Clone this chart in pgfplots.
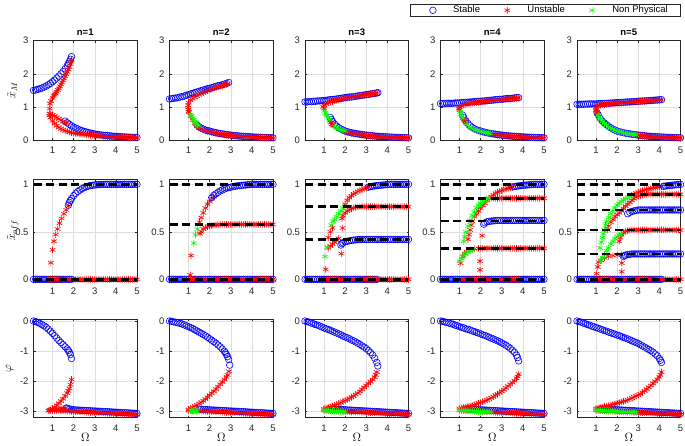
\documentclass[border=0pt]{standalone}
\usepackage{fontspec}
\setmainfont{Liberation Sans}
\usepackage{pgfplots}
\usepackage{pgfplotstable}
\pgfplotsset{compat=1.18}
\definecolor{pblue}{RGB}{0,0,255}
\definecolor{pred}{RGB}{255,0,0}
\definecolor{pgreen}{RGB}{0,255,0}
\newcommand\fsz{\fontsize{9.5}{11}\selectfont}
\pgfplotsset{
  S/.style={only marks, mark=o, color=pblue, mark size=3.3pt, mark options={line width=0.6pt}},
  U/.style={only marks, mark=asterisk, color=pred, mark size=3.3pt, mark options={line width=0.6pt}},
  N/.style={only marks, mark=asterisk, color=pgreen, mark size=3.3pt, mark options={line width=0.6pt}},
  legS/.style={S, legend image code/.code={\path (-10pt,0pt) (10pt,0pt); \draw[##1] plot coordinates {(0pt,0pt)};}},
  legU/.style={U, legend image code/.code={\path (-10pt,0pt) (10pt,0pt); \draw[##1] plot coordinates {(0pt,0pt)};}},
  legN/.style={N, legend image code/.code={\path (-10pt,0pt) (10pt,0pt); \draw[##1] plot coordinates {(0pt,0pt)};}},
  D/.style={black, line width=2.6pt, dash pattern=on 8pt off 4.5pt, no marks},
  base/.style={scale only axis, width=103.5pt, xmin=0.1, xmax=5, xtick={1,2,3,4,5},
    grid=major, major grid style={draw=black!13, line width=0.5pt},
    axis line style={draw=black!85, line width=0.5pt},
    tick align=inside, major tick length=2pt, tick style={draw=black!85, line width=0.5pt},
    ticklabel style={font=\fsz, text=black!85},
    xticklabel style={yshift=-3.5pt}, yticklabel style={xshift=-1.5pt},
    /pgf/number format/assume math mode=true, clip=false, anchor=south west,
    title style={font=\fsz\bfseries, yshift=-4pt},
    ylabel style={font=\fontsize{12}{14}\selectfont, anchor=center},
    xlabel style={font=\fontsize{11.5}{13}\selectfont, at={(axis description cs:0.5,-0.2)}, anchor=center}},
  r1/.style={base, height=99.3pt, ymin=0, ymax=3, ytick={0,1,2,3}, ylabel style={at={(axis description cs:-0.205,0.5)}}},
  r2/.style={base, height=101.65pt, ymin=-0.02, ymax=1.05, ytick={0,0.5,1}, ylabel style={at={(axis description cs:-0.2,0.5)}}},
  r2o/.style={r2, hide axis},
  r3/.style={base, height=98.6pt, ymin=-3.22, ymax=0.067, ytick={-3,-2,-1,0}, xlabel={$\Omega$}, ylabel style={at={(axis description cs:-0.23,0.5)}}},
}
% row 1 lower tails
\pgfplotstableread{
x b r
2.0 0.27 0.25
2.1 0.25 0.232
2.2 0.235 0.217
2.3 0.22 0.203
2.4 0.205 0.19
2.5 0.195 0.18
2.6 0.185 0.17
2.7 0.175 0.16
2.8 0.165 0.151
2.9 0.155 0.143
3.0 0.148 0.136
3.1 0.14 0.129
3.2 0.133 0.122
3.3 0.127 0.116
3.4 0.121 0.111
3.5 0.116 0.106
3.6 0.111 0.101
3.7 0.106 0.097
3.8 0.102 0.093
3.9 0.098 0.089
4.0 0.094 0.085
4.1 0.09 0.082
4.2 0.087 0.079
4.3 0.084 0.076
4.4 0.081 0.073
4.5 0.078 0.07
4.6 0.075 0.068
4.7 0.073 0.066
4.8 0.07 0.063
4.9 0.068 0.061
5.0 0.066 0.059
}\tailM
% row 3 lower tails
\pgfplotstableread{
x b r
0.9 -2.916 -2.976
1.0 -2.92 -2.98
1.1 -2.924 -2.984
1.2 -2.928 -2.987
1.3 -2.932 -2.991
1.4 -2.936 -2.994
1.5 -2.94 -2.998
1.6 -2.944 -3.001
1.7 -2.948 -3.005
1.8 -2.952 -3.008
1.9 -2.956 -3.012
2.0 -2.96 -3.015
2.1 -2.964 -3.019
2.2 -2.968 -3.022
2.3 -2.972 -3.026
2.4 -2.976 -3.029
2.5 -2.98 -3.033
2.6 -2.984 -3.036
2.7 -2.988 -3.04
2.8 -2.992 -3.043
2.9 -2.996 -3.047
3.0 -3.0 -3.05
3.1 -3.004 -3.054
3.2 -3.008 -3.057
3.3 -3.012 -3.061
3.4 -3.016 -3.064
3.5 -3.02 -3.068
3.6 -3.024 -3.071
3.7 -3.028 -3.075
3.8 -3.032 -3.078
3.9 -3.036 -3.082
4.0 -3.04 -3.085
4.1 -3.044 -3.089
4.2 -3.048 -3.092
4.3 -3.052 -3.096
4.4 -3.056 -3.099
4.5 -3.06 -3.103
4.6 -3.064 -3.106
4.7 -3.068 -3.11
4.8 -3.072 -3.113
4.9 -3.076 -3.117
5.0 -3.08 -3.12
}\tailP
% row 2 flat levels
\pgfplotstableread{
x z one a58 a77 a42 a85 a62 a33 a90 a73 a52 a27
0.1 0 1 0.578 0.765 0.42 0.853 0.62 0.326 0.895 0.73 0.52 0.267
0.2 0 1 0.578 0.765 0.42 0.853 0.62 0.326 0.895 0.73 0.52 0.267
0.3 0 1 0.578 0.765 0.42 0.853 0.62 0.326 0.895 0.73 0.52 0.267
0.4 0 1 0.578 0.765 0.42 0.853 0.62 0.326 0.895 0.73 0.52 0.267
0.5 0 1 0.578 0.765 0.42 0.853 0.62 0.326 0.895 0.73 0.52 0.267
0.6 0 1 0.578 0.765 0.42 0.853 0.62 0.326 0.895 0.73 0.52 0.267
0.7 0 1 0.578 0.765 0.42 0.853 0.62 0.326 0.895 0.73 0.52 0.267
0.8 0 1 0.578 0.765 0.42 0.853 0.62 0.326 0.895 0.73 0.52 0.267
0.9 0 1 0.578 0.765 0.42 0.853 0.62 0.326 0.895 0.73 0.52 0.267
1.0 0 1 0.578 0.765 0.42 0.853 0.62 0.326 0.895 0.73 0.52 0.267
1.1 0 1 0.578 0.765 0.42 0.853 0.62 0.326 0.895 0.73 0.52 0.267
1.2 0 1 0.578 0.765 0.42 0.853 0.62 0.326 0.895 0.73 0.52 0.267
1.3 0 1 0.578 0.765 0.42 0.853 0.62 0.326 0.895 0.73 0.52 0.267
1.4 0 1 0.578 0.765 0.42 0.853 0.62 0.326 0.895 0.73 0.52 0.267
1.5 0 1 0.578 0.765 0.42 0.853 0.62 0.326 0.895 0.73 0.52 0.267
1.6 0 1 0.578 0.765 0.42 0.853 0.62 0.326 0.895 0.73 0.52 0.267
1.7 0 1 0.578 0.765 0.42 0.853 0.62 0.326 0.895 0.73 0.52 0.267
1.8 0 1 0.578 0.765 0.42 0.853 0.62 0.326 0.895 0.73 0.52 0.267
1.9 0 1 0.578 0.765 0.42 0.853 0.62 0.326 0.895 0.73 0.52 0.267
2.0 0 1 0.578 0.765 0.42 0.853 0.62 0.326 0.895 0.73 0.52 0.267
2.1 0 1 0.578 0.765 0.42 0.853 0.62 0.326 0.895 0.73 0.52 0.267
2.2 0 1 0.578 0.765 0.42 0.853 0.62 0.326 0.895 0.73 0.52 0.267
2.3 0 1 0.578 0.765 0.42 0.853 0.62 0.326 0.895 0.73 0.52 0.267
2.4 0 1 0.578 0.765 0.42 0.853 0.62 0.326 0.895 0.73 0.52 0.267
2.5 0 1 0.578 0.765 0.42 0.853 0.62 0.326 0.895 0.73 0.52 0.267
2.6 0 1 0.578 0.765 0.42 0.853 0.62 0.326 0.895 0.73 0.52 0.267
2.7 0 1 0.578 0.765 0.42 0.853 0.62 0.326 0.895 0.73 0.52 0.267
2.8 0 1 0.578 0.765 0.42 0.853 0.62 0.326 0.895 0.73 0.52 0.267
2.9 0 1 0.578 0.765 0.42 0.853 0.62 0.326 0.895 0.73 0.52 0.267
3.0 0 1 0.578 0.765 0.42 0.853 0.62 0.326 0.895 0.73 0.52 0.267
3.1 0 1 0.578 0.765 0.42 0.853 0.62 0.326 0.895 0.73 0.52 0.267
3.2 0 1 0.578 0.765 0.42 0.853 0.62 0.326 0.895 0.73 0.52 0.267
3.3 0 1 0.578 0.765 0.42 0.853 0.62 0.326 0.895 0.73 0.52 0.267
3.4 0 1 0.578 0.765 0.42 0.853 0.62 0.326 0.895 0.73 0.52 0.267
3.5 0 1 0.578 0.765 0.42 0.853 0.62 0.326 0.895 0.73 0.52 0.267
3.6 0 1 0.578 0.765 0.42 0.853 0.62 0.326 0.895 0.73 0.52 0.267
3.7 0 1 0.578 0.765 0.42 0.853 0.62 0.326 0.895 0.73 0.52 0.267
3.8 0 1 0.578 0.765 0.42 0.853 0.62 0.326 0.895 0.73 0.52 0.267
3.9 0 1 0.578 0.765 0.42 0.853 0.62 0.326 0.895 0.73 0.52 0.267
4.0 0 1 0.578 0.765 0.42 0.853 0.62 0.326 0.895 0.73 0.52 0.267
4.1 0 1 0.578 0.765 0.42 0.853 0.62 0.326 0.895 0.73 0.52 0.267
4.2 0 1 0.578 0.765 0.42 0.853 0.62 0.326 0.895 0.73 0.52 0.267
4.3 0 1 0.578 0.765 0.42 0.853 0.62 0.326 0.895 0.73 0.52 0.267
4.4 0 1 0.578 0.765 0.42 0.853 0.62 0.326 0.895 0.73 0.52 0.267
4.5 0 1 0.578 0.765 0.42 0.853 0.62 0.326 0.895 0.73 0.52 0.267
4.6 0 1 0.578 0.765 0.42 0.853 0.62 0.326 0.895 0.73 0.52 0.267
4.7 0 1 0.578 0.765 0.42 0.853 0.62 0.326 0.895 0.73 0.52 0.267
4.8 0 1 0.578 0.765 0.42 0.853 0.62 0.326 0.895 0.73 0.52 0.267
4.9 0 1 0.578 0.765 0.42 0.853 0.62 0.326 0.895 0.73 0.52 0.267
5.0 0 1 0.578 0.765 0.42 0.853 0.62 0.326 0.895 0.73 0.52 0.267
}\lev
\begin{document}
\begin{tikzpicture}
\useasboundingbox (0,0) rectangle (685pt,445pt);
% ================= ROW 1 =================
\begin{axis}[r1, at={(33.5pt,305pt)}, title={n=1}, ylabel={$\tilde{x}_M$}]
\addplot[S] coordinates {(0.1,1.50)(0.2,1.51)(0.3,1.53)(0.4,1.55)(0.5,1.57)(0.6,1.60)(0.7,1.63)(0.8,1.67)(0.9,1.71)(1.0,1.76)(1.1,1.81)(1.2,1.87)(1.3,1.93)(1.4,2.00)(1.5,2.07)(1.6,2.15)(1.7,2.25)(1.75,2.31)(1.8,2.37)(1.85,2.44)(1.9,2.52)};
\addplot[S] coordinates {(1.6,0.57)(1.7,0.52)(1.8,0.47)(1.9,0.43)(2.0,0.39)(2.1,0.36)(2.2,0.33)(2.3,0.30)(2.4,0.28)(2.5,0.26)(2.6,0.24)(2.7,0.225)(2.8,0.21)(2.9,0.195)(3.0,0.18)(3.1,0.17)(3.2,0.16)(3.3,0.152)(3.4,0.145)(3.5,0.138)(3.6,0.132)(3.7,0.126)(3.8,0.12)(3.9,0.115)(4.0,0.11)(4.1,0.106)(4.2,0.102)(4.3,0.098)(4.4,0.094)(4.5,0.09)(4.6,0.086)(4.7,0.083)(4.8,0.08)(4.9,0.077)(5.0,0.074)};
\addplot[U] coordinates {(0.87,0.95)(0.88,1.10)(0.93,1.18)(1.0,1.28)(1.05,1.33)(1.1,1.37)(1.15,1.41)(1.2,1.46)(1.25,1.51)(1.3,1.56)(1.35,1.62)(1.4,1.68)(1.45,1.74)(1.5,1.80)(1.55,1.86)(1.6,1.93)(1.65,1.99)(1.7,2.06)(1.75,2.13)(1.8,2.21)(1.85,2.30)(1.9,2.42)};
\addplot[U] coordinates {(0.85,0.80)(0.9,0.79)(1.0,0.76)(1.1,0.72)(1.2,0.68)(1.3,0.64)(1.4,0.60)(1.5,0.56)(1.6,0.53)(1.65,0.51)};
\addplot[U] coordinates {(0.85,0.74)(0.9,0.68)(1.0,0.58)(1.1,0.50)(1.2,0.43)(1.3,0.38)(1.4,0.34)(1.5,0.31)(1.6,0.28)(1.7,0.26)(1.8,0.24)(1.9,0.22)(2.0,0.21)(2.1,0.20)(2.2,0.19)(2.3,0.18)(2.4,0.17)(2.5,0.163)(2.6,0.156)(2.7,0.15)(2.8,0.144)(2.9,0.138)(3.0,0.133)(3.1,0.128)(3.2,0.123)(3.3,0.118)(3.4,0.114)(3.5,0.11)(3.6,0.106)(3.7,0.102)(3.8,0.098)(3.9,0.095)(4.0,0.092)(4.1,0.089)(4.2,0.086)(4.3,0.083)(4.4,0.08)(4.5,0.077)(4.6,0.075)(4.7,0.072)(4.8,0.07)(4.9,0.068)(5.0,0.066)};
\end{axis}
\begin{axis}[r1, at={(169.5pt,305pt)}, title={n=2}]
\addplot[S] coordinates {(0.1,1.24)(0.2,1.25)(0.3,1.26)(0.4,1.27)(0.5,1.28)(0.6,1.30)(0.7,1.31)(0.8,1.33)(0.9,1.35)(1.0,1.37)(1.1,1.39)(1.2,1.41)(1.3,1.43)(1.4,1.45)(1.5,1.47)(1.6,1.49)(1.7,1.51)(1.8,1.53)(1.9,1.55)(2.0,1.56)(2.1,1.58)(2.2,1.60)(2.3,1.62)(2.4,1.64)(2.5,1.65)(2.6,1.67)(2.7,1.69)(2.8,1.71)(2.9,1.74)};
\addplot[S] coordinates {(1.4,0.45)(1.5,0.40)(1.6,0.36)(1.7,0.33)(1.8,0.30)(1.9,0.285)};
\addplot[S] table[x=x,y=b] {\tailM};
\addplot[U] coordinates {(1.0,1.13)(1.1,1.20)(1.2,1.25)(1.3,1.29)(1.4,1.33)(1.5,1.37)(1.6,1.40)(1.7,1.43)(1.8,1.46)(1.9,1.49)(2.0,1.52)(2.1,1.54)(2.2,1.56)(2.3,1.58)(2.4,1.60)(2.5,1.62)(2.6,1.64)(2.7,1.66)(2.8,1.68)(2.85,1.70)};
\addplot[U] coordinates {(0.99,1.05)(0.98,0.98)(1.0,0.92)(1.0,0.86)(1.03,0.84)(1.1,0.72)(1.2,0.60)(1.3,0.50)(1.4,0.43)(1.5,0.37)(1.6,0.33)(1.7,0.30)(1.8,0.27)(1.9,0.26)};
\addplot[U] table[x=x,y=r] {\tailM};
\addplot[N] coordinates {(1.1,0.77)(1.15,0.72)(1.2,0.66)(1.25,0.61)(1.3,0.56)(1.35,0.52)(1.4,0.48)(1.45,0.44)};
\end{axis}
\begin{axis}[r1, at={(305pt,305pt)}, title={n=3}]
\addplot[S] coordinates {(0.1,1.15)(0.2,1.15)(0.3,1.16)(0.4,1.16)(0.5,1.17)(0.6,1.17)(0.7,1.18)(0.8,1.18)(0.9,1.19)(1.0,1.19)(1.1,1.20)(1.2,1.21)(1.3,1.22)(1.4,1.22)(1.5,1.23)(1.6,1.24)(1.7,1.25)(1.8,1.26)(1.9,1.27)(2.0,1.28)(2.1,1.29)(2.2,1.30)(2.3,1.30)(2.4,1.31)(2.5,1.32)(2.6,1.33)(2.7,1.34)(2.8,1.35)(2.9,1.36)(3.0,1.37)(3.1,1.38)(3.2,1.39)(3.3,1.40)(3.4,1.41)(3.5,1.42)(3.55,1.43)};
\addplot[S] coordinates {(1.3,0.68)(1.35,0.62)(1.4,0.56)(1.5,0.48)(1.6,0.42)(1.7,0.37)(1.8,0.33)(1.9,0.30)};
\addplot[S] table[x=x,y=b] {\tailM};
\addplot[U] coordinates {(1.0,1.05)(1.1,1.09)(1.2,1.12)(1.3,1.14)(1.4,1.16)(1.5,1.18)(1.6,1.20)(1.7,1.21)(1.8,1.23)(1.9,1.25)(2.0,1.26)(2.1,1.27)(2.2,1.28)(2.3,1.30)(2.4,1.31)(2.5,1.32)(2.6,1.33)(2.7,1.34)(2.8,1.35)(2.9,1.36)(3.0,1.37)(3.1,1.38)(3.2,1.39)(3.3,1.40)(3.4,1.41)(3.5,1.42)};
\addplot[U] coordinates {(0.97,1.0)(1.0,0.95)(1.28,0.58)(1.32,0.53)(1.37,0.48)(1.42,0.44)};
\addplot[U] table[x=x,y=r] {\tailM};
\addplot[N] coordinates {(1.02,0.88)(1.06,0.82)(1.1,0.77)(1.15,0.72)(1.2,0.67)(1.25,0.62)(1.5,0.41)(1.6,0.37)(1.7,0.34)(1.8,0.31)(1.9,0.29)(2.0,0.27)};
\end{axis}
\begin{axis}[r1, at={(440.5pt,305pt)}, title={n=4}]
\addplot[S] coordinates {(0.1,1.10)(0.2,1.10)(0.3,1.10)(0.4,1.11)(0.5,1.11)(0.6,1.11)(0.7,1.11)(0.8,1.12)(0.9,1.12)(1.0,1.12)(1.1,1.13)(1.2,1.13)(1.3,1.14)(1.4,1.14)(1.5,1.15)(1.6,1.15)(1.7,1.16)(1.8,1.16)(1.9,1.17)(2.0,1.17)(2.1,1.18)(2.2,1.18)(2.3,1.19)(2.4,1.20)(2.5,1.20)(2.6,1.21)(2.7,1.22)(2.8,1.22)(2.9,1.23)(3.0,1.23)(3.1,1.24)(3.2,1.25)(3.3,1.25)(3.4,1.26)(3.5,1.26)(3.6,1.27)(3.7,1.28)(3.8,1.28)};
\addplot[S] coordinates {(1.15,0.75)(1.2,0.68)(1.3,0.58)(1.4,0.50)(1.5,0.43)(1.6,0.38)(1.7,0.34)(1.8,0.31)(1.9,0.29)};
\addplot[S] table[x=x,y=b] {\tailM};
\addplot[U] coordinates {(1.0,0.98)(1.1,1.03)(1.2,1.06)(1.3,1.08)(1.4,1.09)(1.5,1.10)(1.6,1.11)(1.7,1.12)(1.8,1.13)(1.9,1.14)(2.0,1.15)(2.1,1.16)(2.2,1.16)(2.3,1.17)(2.4,1.18)(2.5,1.19)(2.6,1.19)(2.7,1.20)(2.8,1.21)(2.9,1.21)(3.0,1.22)(3.1,1.22)(3.2,1.23)(3.3,1.24)(3.4,1.24)(3.5,1.25)(3.6,1.26)(3.7,1.26)(3.8,1.27)};
\addplot[U] coordinates {(0.97,0.95)(1.0,0.9)(1.2,0.62)(1.25,0.57)(1.3,0.52)};
\addplot[U] table[x=x,y=r,restrict x to domain=2.45:5] {\tailM};
\addplot[N] coordinates {(1.03,0.85)(1.08,0.78)(1.12,0.72)(1.17,0.66)(1.35,0.48)(1.45,0.42)(1.55,0.37)(1.65,0.33)(1.75,0.30)(1.85,0.28)(1.95,0.265)(2.05,0.25)(2.15,0.235)(2.25,0.22)(2.35,0.21)(2.45,0.2)};
\end{axis}
\begin{axis}[r1, at={(577pt,305pt)}, title={n=5},
  legend style={at={(1,1)}, anchor=south east, yshift=24pt, legend columns=3, draw=black!85, fill=white, font=\fsz,
    inner xsep=12.5pt, inner ysep=2pt, nodes={inner sep=0pt}, /tikz/every odd column/.append style={column sep=10pt},
    /tikz/every even column/.append style={column sep=17pt}}]
\addlegendimage{legS}
\addlegendimage{legU}
\addlegendimage{legN}
\addplot[S] coordinates {(0.1,1.08)(0.2,1.08)(0.3,1.08)(0.4,1.08)(0.5,1.085)(0.6,1.085)(0.7,1.09)(0.8,1.09)(0.9,1.09)(1.0,1.09)(1.1,1.095)(1.2,1.10)(1.3,1.10)(1.4,1.105)(1.5,1.11)(1.6,1.11)(1.7,1.115)(1.8,1.12)(1.9,1.125)(2.0,1.13)(2.1,1.13)(2.2,1.135)(2.3,1.14)(2.4,1.145)(2.5,1.15)(2.6,1.15)(2.7,1.155)(2.8,1.16)(2.9,1.165)(3.0,1.17)(3.1,1.175)(3.2,1.18)(3.3,1.18)(3.4,1.185)(3.5,1.19)(3.6,1.195)(3.7,1.20)(3.8,1.205)(3.9,1.21)(4.0,1.215)(4.1,1.22)};
\addplot[S] coordinates {(1.05,0.82)(1.1,0.76)(1.2,0.65)(1.3,0.57)(1.4,0.51)(1.5,0.46)(1.6,0.41)(1.7,0.37)(1.8,0.33)(1.9,0.30)};
\addplot[S] table[x=x,y=b] {\tailM};
\addplot[U] coordinates {(1.0,0.97)(1.05,1.01)(1.1,1.03)(1.2,1.05)(1.3,1.06)(1.4,1.07)(1.5,1.08)(1.6,1.085)(1.7,1.09)(1.8,1.10)(1.9,1.105)(2.0,1.11)(2.1,1.115)(2.2,1.12)(2.3,1.125)(2.4,1.13)(2.5,1.14)(2.6,1.14)(2.7,1.145)(2.8,1.15)(2.9,1.155)(3.0,1.16)(3.1,1.165)(3.2,1.17)(3.3,1.175)(3.4,1.18)(3.5,1.18)(3.6,1.185)(3.7,1.19)(3.8,1.195)(3.9,1.20)(4.0,1.205)(4.1,1.21)};
\addplot[U] coordinates {(1.0,0.9)(1.03,0.85)(1.06,0.8)};
\addplot[U] table[x=x,y=r,restrict x to domain=2.95:5] {\tailM};
\addplot[N] coordinates {(1.1,0.75)(1.15,0.69)(1.2,0.64)(1.3,0.56)(1.4,0.50)(1.5,0.45)(1.6,0.40)(1.7,0.36)(1.8,0.33)(1.9,0.30)(2.0,0.27)(2.1,0.25)(2.2,0.235)(2.3,0.22)(2.4,0.205)(2.5,0.195)(2.6,0.185)(2.7,0.175)(2.8,0.165)(2.9,0.155)};
\legend{Stable,Unstable,Non Physical}
\end{axis}
% ================= ROW 2 =================
\begin{axis}[r2, at={(33.5pt,163.8pt)}, ylabel={$\tilde{x}_{off}$}]
\addplot[S] table[x=x,y=z,restrict x to domain=0:1.95] {\lev};
\addplot[U] table[x=x,y=z,restrict x to domain=0.75:5] {\lev};
\addplot[U] coordinates {(0.92,0.175)(1.0,0.31)(1.07,0.40)(1.15,0.47)(1.24,0.53)(1.33,0.59)(1.43,0.64)(1.54,0.69)(1.65,0.73)(1.75,0.77)};
\addplot[S] coordinates {(1.75,0.78)(1.8,0.81)(1.85,0.83)(1.9,0.85)(2.0,0.88)(2.1,0.905)(2.2,0.925)(2.3,0.94)(2.4,0.955)(2.5,0.965)(2.6,0.975)(2.7,0.982)(2.8,0.987)(2.9,0.99)(3.0,0.993)(3.1,0.995)(3.2,0.997)(3.3,0.998)};
\addplot[S] table[x=x,y=one,restrict x to domain=3.35:5] {\lev};
\end{axis}
\begin{axis}[r2o, at={(33.5pt,163.8pt)}]
\addplot[D] coordinates {(0.1,1)(5,1)};
\addplot[D] coordinates {(0.1,0)(5,0)};
\end{axis}
\begin{axis}[r2, at={(169.5pt,163.8pt)}]
\addplot[S] table[x=x,y=z] {\lev};
\addplot[U] table[x=x,y=z,restrict x to domain=0.95:5] {\lev};
\addplot[U] coordinates {(1.08,0.046)(1.12,0.25)};
\addplot[U] coordinates {(1.52,0.60)(1.6,0.65)(1.7,0.70)(1.8,0.75)(1.9,0.79)(2.0,0.82)(2.1,0.85)(2.2,0.87)};
\addplot[S] coordinates {(2.1,0.86)(2.2,0.885)(2.3,0.90)(2.4,0.915)(2.5,0.93)(2.6,0.94)(2.7,0.95)(2.8,0.96)(2.9,0.965)(3.0,0.97)(3.1,0.975)(3.2,0.98)(3.3,0.983)(3.4,0.986)(3.5,0.989)(3.6,0.991)(3.7,0.993)(3.8,0.995)(3.9,0.997)};
\addplot[S] table[x=x,y=one,restrict x to domain=3.95:5] {\lev};
\addplot[U] coordinates {(1.55,0.48)(1.6,0.50)(1.7,0.53)(1.8,0.545)(1.9,0.555)(2.0,0.56)(2.1,0.565)(2.2,0.57)(2.3,0.573)(2.4,0.575)};
\addplot[U] table[x=x,y=a58,restrict x to domain=2.45:5] {\lev};
\addplot[N] coordinates {(1.25,0.38)(1.33,0.47)(1.42,0.53)};
\end{axis}
\begin{axis}[r2o, at={(169.5pt,163.8pt)}]
\addplot[D] coordinates {(0.1,1)(5,1)};
\addplot[D] coordinates {(0.1,0.578)(5,0.578)};
\addplot[D] coordinates {(0.1,0)(5,0)};
\end{axis}
\begin{axis}[r2, at={(305pt,163.8pt)}]
\addplot[S] table[x=x,y=z,restrict x to domain=0:3.55] {\lev};
\addplot[U] table[x=x,y=z,restrict x to domain=0.95:5] {\lev};
\addplot[U] coordinates {(1.08,0.105)(1.2,0.44)(1.3,0.50)(1.4,0.54)(1.82,0.27)(1.88,0.54)};
\addplot[U] coordinates {(2.0,0.79)(2.1,0.83)(2.2,0.86)(2.3,0.88)(2.4,0.90)(2.5,0.91)(2.6,0.925)(2.7,0.935)(2.8,0.945)(2.9,0.955)(3.0,0.962)(3.1,0.968)};
\addplot[S] coordinates {(3.1,0.97)(3.2,0.975)(3.3,0.98)(3.4,0.983)(3.5,0.986)(3.6,0.989)(3.7,0.991)(3.8,0.993)(3.9,0.995)(4.0,0.997)};
\addplot[S] table[x=x,y=one,restrict x to domain=4.05:5] {\lev};
\addplot[U] coordinates {(1.85,0.64)(1.9,0.67)(2.0,0.70)(2.1,0.72)(2.2,0.735)(2.3,0.745)(2.4,0.752)(2.5,0.758)(2.6,0.762)};
\addplot[U] table[x=x,y=a77,restrict x to domain=2.65:5] {\lev};
\addplot[U] coordinates {(1.2,0.33)(1.3,0.35)(1.4,0.37)(1.5,0.39)(1.6,0.41)(1.7,0.43)};
\addplot[S] coordinates {(1.8,0.36)(1.85,0.375)(1.9,0.385)(2.0,0.395)(2.1,0.40)(2.2,0.405)(2.3,0.41)(2.4,0.413)(2.5,0.415)(2.6,0.417)(2.7,0.418)};
\addplot[S] table[x=x,y=a42,restrict x to domain=2.75:5] {\lev};
\addplot[N] coordinates {(1.05,0.24)(1.16,0.34)(1.35,0.57)(1.42,0.61)(1.5,0.63)(1.6,0.66)(1.7,0.69)(1.8,0.72)(1.9,0.75)(2.0,0.77)};
\end{axis}
\begin{axis}[r2o, at={(305pt,163.8pt)}]
\addplot[D] coordinates {(0.1,1)(5,1)};
\addplot[D] coordinates {(0.1,0.765)(5,0.765)};
\addplot[D] coordinates {(0.1,0.42)(5,0.42)};
\addplot[D] coordinates {(0.1,0)(5,0)};
\end{axis}
\begin{axis}[r2, at={(440.5pt,163.8pt)}]
\addplot[S] table[x=x,y=z] {\lev};
\addplot[U] table[x=x,y=z,restrict x to domain=0.95:3.85] {\lev};
\addplot[U] coordinates {(1.05,0.17)(1.15,0.24)(1.25,0.27)(1.35,0.29)(1.5,0.31)(1.7,0.32)(1.9,0.325)};
\addplot[U] table[x=x,y=a33,restrict x to domain=1.95:5] {\lev};
\addplot[U] table[x=x,y=a85,restrict x to domain=2.45:5] {\lev};
\addplot[U] coordinates {(1.4,0.42)(1.45,0.47)(1.5,0.52)(1.55,0.57)(1.6,0.61)(1.7,0.66)(1.8,0.69)(1.9,0.72)(2.0,0.75)(2.1,0.78)(2.2,0.80)(2.3,0.83)(2.4,0.85)(2.5,0.87)(2.6,0.89)(2.7,0.905)(2.8,0.915)(2.9,0.925)(3.0,0.935)(3.1,0.945)(3.2,0.952)(3.3,0.958)(3.4,0.963)(3.5,0.968)};
\addplot[S] coordinates {(3.5,0.972)(3.6,0.976)(3.7,0.98)(3.8,0.983)(3.9,0.986)(4.0,0.989)(4.1,0.991)(4.2,0.993)(4.3,0.995)(4.4,0.997)};
\addplot[S] table[x=x,y=one,restrict x to domain=4.45:5] {\lev};
\addplot[S] coordinates {(2.15,0.58)(2.2,0.595)(2.3,0.605)(2.4,0.61)(2.5,0.613)(2.6,0.615)(2.7,0.617)};
\addplot[S] table[x=x,y=a62,restrict x to domain=2.75:5] {\lev};
\addplot[U] coordinates {(1.97,0.10)(1.97,0.19)(2.07,0.46)};
\addplot[N] coordinates {(1.0,0.19)(1.1,0.22)(1.2,0.25)(1.3,0.27)(1.4,0.29)(1.5,0.30)(1.6,0.31)};
\addplot[N] coordinates {(1.2,0.40)(1.25,0.45)(1.3,0.50)(1.4,0.56)(1.5,0.62)(1.6,0.67)(1.7,0.71)(1.8,0.75)(1.9,0.78)(2.0,0.80)(2.1,0.82)(2.2,0.835)(2.3,0.845)(2.4,0.85)};
\end{axis}
\begin{axis}[r2o, at={(440.5pt,163.8pt)}]
\addplot[D] coordinates {(0.1,1)(5,1)};
\addplot[D] coordinates {(0.1,0.853)(5,0.853)};
\addplot[D] coordinates {(0.1,0.614)(5,0.614)};
\addplot[D] coordinates {(0.1,0.326)(5,0.326)};
\addplot[D] coordinates {(0.1,0)(5,0)};
\end{axis}
\begin{axis}[r2, at={(577pt,163.8pt)}]
\addplot[S] table[x=x,y=z,restrict x to domain=0:4.15] {\lev};
\addplot[U] table[x=x,y=z,restrict x to domain=0.95:5] {\lev};
\addplot[U] coordinates {(1.03,0.06)(1.08,0.13)(1.12,0.18)(2.22,0.08)(2.22,0.17)};
\addplot[U] coordinates {(1.55,0.52)(1.6,0.56)(1.7,0.60)(1.8,0.63)(1.9,0.66)(2.0,0.68)(2.1,0.70)(2.2,0.72)(2.3,0.745)(2.4,0.77)(2.5,0.79)(2.6,0.81)(2.7,0.83)(2.8,0.85)(2.9,0.865)(3.0,0.875)(3.1,0.882)(3.2,0.888)};
\addplot[U] table[x=x,y=a90,restrict x to domain=3.25:5] {\lev};
\addplot[U] coordinates {(2.7,0.885)(2.8,0.895)(2.9,0.905)(3.0,0.915)(3.1,0.925)(3.2,0.932)(3.3,0.94)(3.4,0.946)(3.5,0.952)(3.6,0.957)(3.7,0.962)(3.8,0.966)(3.9,0.97)(4.0,0.973)(4.1,0.976)};
\addplot[S] coordinates {(4.2,0.979)(4.3,0.982)(4.4,0.985)(4.5,0.988)(4.6,0.99)(4.7,0.993)(4.8,0.995)(4.9,0.997)(5.0,0.999)};
\addplot[S] coordinates {(2.5,0.69)(2.6,0.705)(2.7,0.715)(2.8,0.72)(2.9,0.725)};
\addplot[S] table[x=x,y=a73,restrict x to domain=2.95:5] {\lev};
\addplot[U] coordinates {(2.1,0.40)(2.15,0.44)(2.2,0.47)(2.3,0.49)(2.4,0.505)(2.5,0.512)(2.6,0.516)};
\addplot[U] table[x=x,y=a52,restrict x to domain=2.65:5] {\lev};
\addplot[U] coordinates {(1.25,0.2)(1.4,0.225)(1.6,0.24)(1.8,0.25)(2.0,0.255)(2.2,0.26)};
\addplot[S] coordinates {(2.3,0.24)(2.35,0.25)(2.4,0.255)(2.5,0.26)(2.6,0.263)};
\addplot[S] table[x=x,y=a27,restrict x to domain=2.65:5] {\lev};
\addplot[N] coordinates {(1.19,0.33)(1.25,0.39)(1.3,0.44)(1.35,0.48)(1.4,0.52)(1.45,0.57)(1.5,0.61)(1.6,0.65)(1.7,0.69)(1.8,0.72)(1.9,0.75)(2.0,0.78)(2.1,0.80)(2.2,0.82)(2.3,0.835)(2.4,0.85)(2.5,0.86)(2.6,0.87)};
\addplot[N] coordinates {(1.2,0.20)(1.3,0.23)(1.4,0.26)(1.5,0.30)(1.6,0.33)(1.7,0.37)(1.8,0.40)(1.9,0.43)(2.0,0.45)(2.1,0.465)(2.2,0.48)};
\end{axis}
\begin{axis}[r2o, at={(577pt,163.8pt)}]
\addplot[D] coordinates {(0.1,1)(5,1)};
\addplot[D] coordinates {(0.1,0.895)(5,0.895)};
\addplot[D] coordinates {(0.1,0.73)(5,0.73)};
\addplot[D] coordinates {(0.1,0.52)(5,0.52)};
\addplot[D] coordinates {(0.1,0.267)(5,0.267)};
\addplot[D] coordinates {(0.1,0)(5,0)};
\end{axis}
% ================= ROW 3 =================
\begin{axis}[r3, at={(33.5pt,27.4pt)}, ylabel={$\varphi$}]
\addplot[S] coordinates {(0.1,0)(0.2,-0.02)(0.3,-0.05)(0.4,-0.08)(0.5,-0.12)(0.6,-0.16)(0.7,-0.21)(0.8,-0.27)(0.9,-0.34)(1.0,-0.41)(1.1,-0.49)(1.2,-0.57)(1.3,-0.65)(1.4,-0.72)(1.5,-0.79)(1.6,-0.86)(1.7,-0.93)(1.75,-0.98)(1.8,-1.04)(1.85,-1.12)(1.9,-1.25)};
\addplot[S] coordinates {(1.65,-2.9)(1.7,-2.91)(1.8,-2.93)(1.9,-2.945)};
\addplot[S] table[x=x,y=b,restrict x to domain=1.95:5] {\tailP};
\addplot[U] coordinates {(0.85,-2.98)(0.9,-2.96)(1.0,-2.92)(1.1,-2.87)(1.2,-2.81)(1.3,-2.74)(1.4,-2.67)(1.5,-2.59)(1.6,-2.50)(1.7,-2.40)(1.75,-2.33)(1.8,-2.25)(1.85,-2.12)(1.9,-1.95)};
\addplot[U] coordinates {(0.9,-2.97)(1.0,-2.96)(1.1,-2.95)(1.2,-2.94)(1.3,-2.93)(1.4,-2.92)(1.5,-2.92)(1.6,-2.91)};
\addplot[U] coordinates {(0.8,-2.99)};
\addplot[U] table[x=x,y=r,restrict x to domain=0.85:5] {\tailP};
\end{axis}
\begin{axis}[r3, at={(169.5pt,27.4pt)}]
\addplot[S] coordinates {(0.1,0)(0.2,-0.01)(0.3,-0.03)(0.4,-0.04)(0.5,-0.06)(0.6,-0.08)(0.7,-0.10)(0.8,-0.13)(0.9,-0.16)(1.0,-0.19)(1.1,-0.22)(1.2,-0.25)(1.3,-0.29)(1.4,-0.33)(1.5,-0.37)(1.6,-0.41)(1.7,-0.45)(1.8,-0.49)(1.9,-0.54)(2.0,-0.59)(2.1,-0.64)(2.2,-0.69)(2.3,-0.74)(2.4,-0.80)(2.5,-0.86)(2.6,-0.93)(2.7,-1.01)(2.75,-1.06)(2.8,-1.12)(2.85,-1.19)(2.9,-1.28)(2.95,-1.47)};
\addplot[S] table[x=x,y=b,restrict x to domain=1.45:5] {\tailP};
\addplot[U] coordinates {(2.92,-1.68)(2.85,-1.80)(2.8,-1.86)(2.7,-1.95)(2.6,-2.03)(2.5,-2.11)(2.4,-2.19)(2.3,-2.27)(2.2,-2.34)(2.1,-2.41)(2.0,-2.47)(1.9,-2.54)(1.8,-2.60)(1.7,-2.66)(1.6,-2.71)(1.5,-2.75)(1.4,-2.80)(1.3,-2.84)(1.2,-2.88)(1.1,-2.91)(1.0,-2.95)};
\addplot[U] table[x=x,y=r,restrict x to domain=0.95:5] {\tailP};
\addplot[N] coordinates {(1.1,-2.98)(1.15,-2.99)(1.2,-3.0)(1.25,-3.0)(1.3,-3.0)(1.35,-3.01)(1.4,-3.01)};
\end{axis}
\begin{axis}[r3, at={(305pt,27.4pt)}]
\addplot[S] coordinates {(0.1,0)(0.2,-0.02)(0.3,-0.04)(0.4,-0.07)(0.5,-0.09)(0.6,-0.12)(0.7,-0.14)(0.8,-0.17)(0.9,-0.20)(1.0,-0.23)(1.1,-0.26)(1.2,-0.28)(1.3,-0.31)(1.4,-0.34)(1.5,-0.37)(1.6,-0.40)(1.7,-0.43)(1.8,-0.46)(1.9,-0.50)(2.0,-0.53)(2.1,-0.56)(2.2,-0.59)(2.3,-0.63)(2.4,-0.66)(2.5,-0.70)(2.6,-0.74)(2.7,-0.78)(2.8,-0.83)(2.9,-0.87)(3.0,-0.92)(3.1,-0.98)(3.2,-1.05)(3.3,-1.13)(3.4,-1.24)(3.5,-1.38)(3.55,-1.5)};
\addplot[S] table[x=x,y=b,restrict x to domain=1.35:5] {\tailP};
\addplot[U] coordinates {(3.5,-1.7)(3.45,-1.80)(3.4,-1.87)(3.3,-1.95)(3.2,-2.02)(3.1,-2.08)(3.0,-2.15)(2.9,-2.21)(2.8,-2.28)(2.7,-2.35)(2.6,-2.40)(2.5,-2.45)(2.4,-2.50)(2.3,-2.54)(2.2,-2.58)(2.1,-2.62)(2.0,-2.65)(1.9,-2.68)(1.8,-2.72)(1.7,-2.75)(1.6,-2.78)(1.5,-2.81)(1.4,-2.83)(1.3,-2.86)(1.2,-2.88)(1.1,-2.90)(1.0,-2.93)};
\addplot[U] table[x=x,y=r,restrict x to domain=0.95:5] {\tailP};
\addplot[N] coordinates {(1.0,-2.97)(1.1,-2.98)(1.2,-2.99)(1.3,-2.99)(1.4,-3.0)(1.5,-3.0)(1.6,-3.01)(1.7,-3.01)(1.8,-3.02)(1.9,-3.02)(2.0,-3.03)};
\end{axis}
\begin{axis}[r3, at={(440.5pt,27.4pt)}]
\addplot[S] coordinates {(0.1,0)(0.2,-0.01)(0.3,-0.03)(0.4,-0.05)(0.5,-0.07)(0.6,-0.09)(0.7,-0.11)(0.8,-0.14)(0.9,-0.16)(1.0,-0.19)(1.1,-0.21)(1.2,-0.23)(1.3,-0.26)(1.4,-0.28)(1.5,-0.30)(1.6,-0.33)(1.7,-0.35)(1.8,-0.38)(1.9,-0.40)(2.0,-0.43)(2.1,-0.46)(2.2,-0.48)(2.3,-0.51)(2.4,-0.54)(2.5,-0.57)(2.6,-0.60)(2.7,-0.63)(2.8,-0.66)(2.9,-0.69)(3.0,-0.73)(3.1,-0.77)(3.2,-0.81)(3.3,-0.86)(3.4,-0.91)(3.5,-0.97)(3.6,-1.04)(3.7,-1.14)(3.75,-1.22)(3.8,-1.33)};
\addplot[S] table[x=x,y=b,restrict x to domain=1.25:5] {\tailP};
\addplot[U] coordinates {(3.8,-1.77)(3.75,-1.85)(3.7,-1.91)(3.6,-1.99)(3.5,-2.05)(3.4,-2.11)(3.3,-2.17)(3.2,-2.23)(3.1,-2.29)(3.0,-2.34)(2.9,-2.39)(2.8,-2.44)(2.7,-2.48)(2.6,-2.52)(2.5,-2.56)(2.4,-2.60)(2.3,-2.63)(2.2,-2.66)(2.1,-2.69)(2.0,-2.72)(1.9,-2.74)(1.8,-2.77)(1.7,-2.79)(1.6,-2.81)(1.5,-2.83)(1.4,-2.85)(1.3,-2.87)(1.2,-2.88)(1.1,-2.90)(1.0,-2.92)};
\addplot[U] table[x=x,y=r,restrict x to domain=0.95:5] {\tailP};
\addplot[N] coordinates {(1.0,-2.97)(1.1,-2.98)(1.2,-2.985)(1.3,-2.99)(1.4,-2.995)(1.5,-3.0)(1.6,-3.0)(1.7,-3.005)(1.8,-3.01)(1.9,-3.015)(2.0,-3.02)(2.1,-3.02)(2.2,-3.025)(2.3,-3.03)(2.4,-3.03)(2.5,-3.035)};
\end{axis}
\begin{axis}[r3, at={(577pt,27.4pt)}]
\addplot[S] coordinates {(0.1,0)(0.2,-0.02)(0.3,-0.04)(0.4,-0.07)(0.5,-0.09)(0.6,-0.12)(0.7,-0.14)(0.8,-0.17)(0.9,-0.19)(1.0,-0.22)(1.1,-0.24)(1.2,-0.27)(1.3,-0.29)(1.4,-0.32)(1.5,-0.34)(1.6,-0.37)(1.7,-0.39)(1.8,-0.42)(1.9,-0.44)(2.0,-0.47)(2.1,-0.49)(2.2,-0.52)(2.3,-0.55)(2.4,-0.57)(2.5,-0.60)(2.6,-0.63)(2.7,-0.66)(2.8,-0.69)(2.9,-0.72)(3.0,-0.75)(3.1,-0.79)(3.2,-0.83)(3.3,-0.87)(3.4,-0.91)(3.5,-0.95)(3.6,-0.99)(3.7,-1.04)(3.8,-1.10)(3.9,-1.16)(4.0,-1.25)(4.05,-1.31)(4.1,-1.38)};
\addplot[S] table[x=x,y=b,restrict x to domain=1.15:5] {\tailP};
\addplot[U] coordinates {(4.1,-1.70)(4.05,-1.80)(4.0,-1.86)(3.9,-1.94)(3.8,-2.01)(3.7,-2.08)(3.6,-2.15)(3.5,-2.21)(3.4,-2.27)(3.3,-2.33)(3.2,-2.38)(3.1,-2.43)(3.0,-2.47)(2.9,-2.50)(2.8,-2.53)(2.7,-2.57)(2.6,-2.60)(2.5,-2.63)(2.4,-2.66)(2.3,-2.68)(2.2,-2.70)(2.1,-2.72)(2.0,-2.74)(1.9,-2.76)(1.8,-2.78)(1.7,-2.80)(1.6,-2.82)(1.5,-2.84)(1.4,-2.85)(1.3,-2.87)(1.2,-2.89)(1.1,-2.90)(1.0,-2.92)};
\addplot[U] table[x=x,y=r,restrict x to domain=0.95:5] {\tailP};
\addplot[N] coordinates {(1.0,-2.97)(1.1,-2.975)(1.2,-2.98)(1.3,-2.985)(1.4,-2.99)(1.5,-2.995)(1.6,-3.0)(1.7,-3.0)(1.8,-3.005)(1.9,-3.01)(2.0,-3.015)(2.1,-3.02)(2.2,-3.02)(2.3,-3.025)(2.4,-3.03)(2.5,-3.03)(2.6,-3.035)(2.7,-3.035)(2.8,-3.04)(2.9,-3.045)};
\end{axis}
\end{tikzpicture}
\end{document}
